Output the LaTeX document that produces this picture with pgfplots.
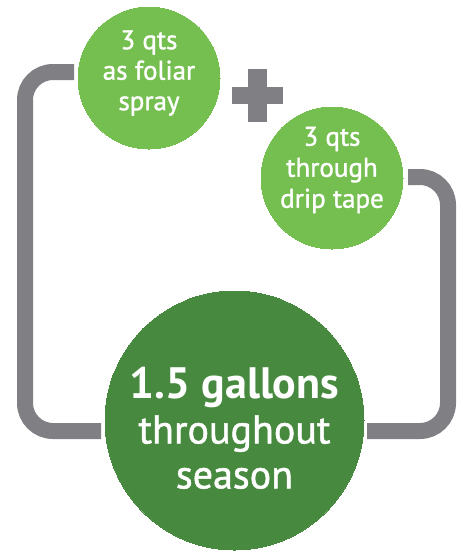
\documentclass[border=0pt]{standalone}
\usepackage{pgfplots}
\pgfplotsset{compat=1.18}
\usepackage{fontspec}
\setmainfont{PT Sans}
\newfontfamily\semibold[FakeBold=1.3]{PT Sans}
\definecolor{lightgreen}{RGB}{116,191,80}
\definecolor{darkgreen}{RGB}{71,138,63}
\definecolor{pipegray}{RGB}{128,128,132}

\begin{document}
\begin{tikzpicture}
  \begin{axis}[
      width=463pt, height=552pt, scale only axis,
      xmin=0, xmax=463, ymin=0, ymax=552,
      y dir=reverse,
      hide axis, clip=false,
    ]
    % frame that fixes the picture size
    \addplot[draw=none] coordinates {(0,0) (463,552)};
    % grey pipes
    \addplot[pipegray, line width=16pt, rounded corners=28pt] coordinates {
        (74,72) (25,72) (25,431) (101,431)};
    \addplot[pipegray, line width=16pt, rounded corners=28pt] coordinates {
        (408,177) (448,177) (448,431) (367,431)};
    % plus sign
    \addplot[pipegray, line width=19pt] coordinates {(257.5,69) (257.5,122)};
    \addplot[pipegray, line width=17pt] coordinates {(232,95.5) (283,95.5)};
    % circles
    \addplot[lightgreen, only marks, mark=*, mark size=71pt,
      mark options={draw=lightgreen, fill=lightgreen, line width=0pt}]
      coordinates {(149,78) (332,178)};
    \addplot[darkgreen, only marks, mark=*, mark size=129.5pt,
      mark options={draw=darkgreen, fill=darkgreen, line width=0pt}]
      coordinates {(234.5,420.5)};
    \coordinate (t1) at (axis cs:149,73);
    \coordinate (t2) at (axis cs:332,170);
    \coordinate (t3) at (axis cs:234.5,428);
  \end{axis}
  % labels on top of the circles
  \node[white, align=center, font=\semibold\fontsize{27}{30.5}\selectfont]
    at (t1) {3 qts\\as foliar\\spray};
  \node[white, align=center, font=\semibold\fontsize{27}{31}\selectfont]
    at (t2) {3 qts\\through\\drip tape};
  \node[white, align=center, font=\semibold\fontsize{40}{45}\selectfont]
    at (t3) {{\normalfont\bfseries\fontsize{44}{45}\selectfont 1.5 gallons}\\throughout\\season};
\end{tikzpicture}
\end{document}
